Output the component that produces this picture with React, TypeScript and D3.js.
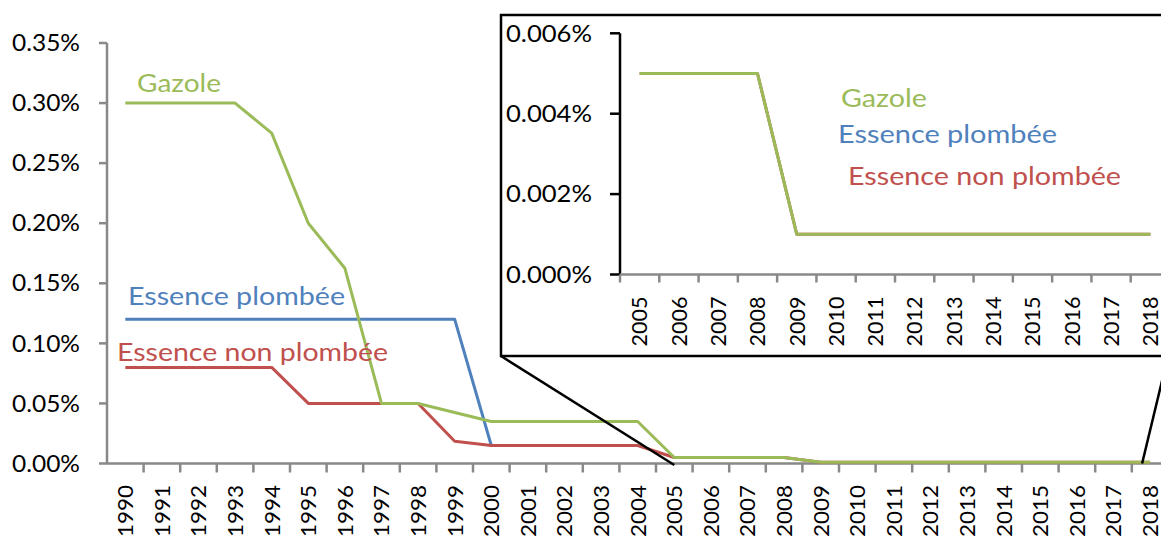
import React from "react";
import * as d3 from "d3";

const years = ["1990","1991","1992","1993","1994","1995","1996","1997","1998","1999","2000","2001","2002","2003","2004","2005","2006","2007","2008","2009","2010","2011","2012","2013","2014","2015","2016","2017","2018"];
const gazole = [0.30,0.30,0.30,0.30,0.275,0.20,0.1625,0.05,0.05,0.0425,0.035,0.035,0.035,0.035,0.035,0.005,0.005,0.005,0.005,0.001,0.001,0.001,0.001,0.001,0.001,0.001,0.001,0.001,0.001];
const essencePlombee: (number|null)[] = [0.12,0.12,0.12,0.12,0.12,0.12,0.12,0.12,0.12,0.12,0.015,null,null,null,null,null,null,null,null,null,null,null,null,null,null,null,null,null,null];
const essenceNonPlombee = [0.08,0.08,0.08,0.08,0.08,0.05,0.05,0.05,0.05,0.0185,0.015,0.015,0.015,0.015,0.015,0.005,0.005,0.005,0.005,0.001,0.001,0.001,0.001,0.001,0.001,0.001,0.001,0.001,0.001];
const seriesNames = ["Gazole", "Essence plombée", "Essence non plombée"];
const insetStart = "2005";
const mainTicks = [0,0.05,0.10,0.15,0.20,0.25,0.30,0.35];
const insetTicks = [0,0.002,0.004,0.006];

const GREEN = "#9BBB59";
const BLUE = "#4F81BD";
const RED = "#C0504D";
const GREY = "#898989";
const FONT = "Lato, 'DejaVu Sans', sans-serif";

export default function App() {
  const W = 1161, H = 541;
  const x = d3.scaleBand<string>().domain(years).range([107, 1168.4]).padding(0);
  const y = d3.scaleLinear().domain([0, 0.35]).range([463.5, 43]);
  const bw = x.bandwidth();
  const cx = (yr: string) => (x(yr) as number) + bw / 2;

  const mkLine = (vals: (number|null)[], xs: (s: string)=>number, yy: d3.ScaleLinear<number,number>, cats: string[]) =>
    d3.line<number|null>()
      .defined(d => d != null)
      .x((_, i) => xs(cats[i]))
      .y(d => yy(d as number))(vals) || "";

  const iStart = years.indexOf(insetStart);
  const insetYears = years.slice(iStart);
  const xi = d3.scaleBand<string>().domain(insetYears).range([620, 1170]).padding(0);
  const yi = d3.scaleLinear().domain([0, 0.006]).range([274.5, 33.3]);
  const bwi = xi.bandwidth();
  const cxi = (yr: string) => (xi(yr) as number) + bwi / 2;

  const fmtMain = (v: number) => d3.format(".2f")(v) + "%";
  const fmtIn = (v: number) => d3.format(".3f")(v) + "%";

  const series = [
    { vals: essencePlombee, color: BLUE },
    { vals: essenceNonPlombee, color: RED },
    { vals: gazole, color: GREEN },
  ];

  const box = { x: 501, y: 15, w: 667, h: 341 };
  const LS = 24.7;
  const stretch = "spacingAndGlyphs";

  return (
    <svg width={W} height={H} style={{ position: "absolute", left: 0, top: 0, background: "#fff" }} fontFamily={FONT}>
      <rect x={0} y={0} width={W} height={H} fill="#fff" />
      {/* main y axis */}
      <line x1={107} x2={107} y1={y(0.35)} y2={y(0)} stroke={GREY} strokeWidth={2.5} />
      {mainTicks.map(t => (
        <g key={t}>
          <line x1={99} x2={107} y1={y(t)} y2={y(t)} stroke={GREY} strokeWidth={2.5} />
          <text x={80} y={y(t) + 8.2} textAnchor="end" fontSize={22.5} fill="#000" textLength={68} lengthAdjust={stretch}>{fmtMain(t)}</text>
        </g>
      ))}
      {/* main x axis */}
      <line x1={107} x2={W} y1={y(0)} y2={y(0)} stroke={GREY} strokeWidth={2.5} />
      {years.map(yr => (
        <g key={yr}>
          <line x1={(x(yr) as number) + bw} x2={(x(yr) as number) + bw} y1={y(0)} y2={y(0) + 9} stroke={GREY} strokeWidth={2.5} />
          <text transform={`translate(${cx(yr) + 7.8},485) rotate(-90)`} textAnchor="end" fontSize={21.5} fill="#000" textLength={52} lengthAdjust={stretch}>{yr}</text>
        </g>
      ))}
      {/* main lines */}
      {series.map((s, k) => (
        <path key={k} d={mkLine(s.vals, cx, y, years)} fill="none" stroke={s.color} strokeWidth={3} strokeLinejoin="round" />
      ))}
      {/* main labels */}
      <text x={137} y={92} fontSize={LS} fill={GREEN} textLength={84} lengthAdjust={stretch}>{seriesNames[0]}</text>
      <text x={128} y={305} fontSize={LS} fill={BLUE} textLength={217} lengthAdjust={stretch}>{seriesNames[1]}</text>
      <text x={117} y={361} fontSize={LS} fill={RED} textLength={271} lengthAdjust={stretch}>{seriesNames[2]}</text>

      {/* inset */}
      <rect x={box.x} y={box.y} width={box.w} height={box.h} fill="#fff" stroke="#000" strokeWidth={2.5} />
      <line x1={620} x2={620} y1={yi(0.006)} y2={yi(0)} stroke="#000" strokeWidth={2.5} />
      {insetTicks.map(t => (
        <g key={t}>
          <line x1={610} x2={620} y1={yi(t)} y2={yi(t)} stroke="#000" strokeWidth={2.5} />
          <text x={592} y={yi(t) + 8.2} textAnchor="end" fontSize={22.5} fill="#000" textLength={86} lengthAdjust={stretch}>{fmtIn(t)}</text>
        </g>
      ))}
      <line x1={620} x2={box.x + box.w} y1={yi(0)} y2={yi(0)} stroke={GREY} strokeWidth={2.5} />
      {insetYears.map(yr => (
        <g key={yr}>
          <line x1={(xi(yr) as number)} x2={(xi(yr) as number)} y1={yi(0)} y2={yi(0) + 8} stroke={GREY} strokeWidth={2.5} />
          <text transform={`translate(${cxi(yr) + 7.8},296.5) rotate(-90)`} textAnchor="end" fontSize={21.5} fill="#000" textLength={50} lengthAdjust={stretch}>{yr}</text>
        </g>
      ))}
      {series.slice(1).map((s, k) => (
        <path key={k} d={mkLine(s.vals.slice(iStart), cxi, yi, insetYears)} fill="none" stroke={s.color} strokeWidth={3} strokeLinejoin="round" />
      ))}
      <text x={841} y={107} fontSize={LS} fill={GREEN} textLength={86} lengthAdjust={stretch}>{seriesNames[0]}</text>
      <text x={838} y={142.5} fontSize={LS} fill={BLUE} textLength={219} lengthAdjust={stretch}>{seriesNames[1]}</text>
      <text x={848} y={184.5} fontSize={LS} fill={RED} textLength={273} lengthAdjust={stretch}>{seriesNames[2]}</text>

      {/* connectors */}
      <line x1={box.x} y1={box.y + box.h} x2={cx(insetStart)} y2={y(0) + 1.5} stroke="#000" strokeWidth={2.5} />
      <line x1={box.x + box.w} y1={box.y + box.h} x2={cx("2018") - 8} y2={y(0)} stroke="#000" strokeWidth={2.5} />
    </svg>
  );
}
